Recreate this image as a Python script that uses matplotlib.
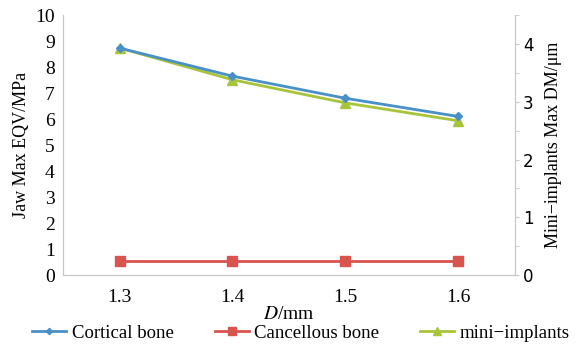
import matplotlib.pyplot as plt
from matplotlib.ticker import MultipleLocator

# data
diam = ["1.3", "1.4", "1.5", "1.6"]
cortical = [8.73, 7.65, 6.80, 6.10]      # left axis, MPa
cancellous = [0.54, 0.54, 0.54, 0.54]    # left axis, MPa
implants = [3.93, 3.38, 2.98, 2.67]      # right axis, um

plt.rcParams["font.family"] = ["Liberation Serif", "DejaVu Serif"]
plt.rcParams["mathtext.fontset"] = "stix"

BLUE = "#4a90c8"
RED = "#d9534f"
GREEN = "#a8c43a"
GRAY = "#c8c8c8"

fig, ax = plt.subplots(figsize=(5.79, 3.5), dpi=100)
fig.subplots_adjust(left=0.109, right=0.889, top=0.957, bottom=0.214)
ax2 = ax.twinx()

x = range(len(diam))
l1, = ax.plot(x, cortical, color=BLUE, lw=2, marker="D", ms=4, label="Cortical bone", zorder=3)
l2, = ax.plot(x, cancellous, color=RED, lw=2, marker="s", ms=7, label="Cancellous bone")
l3, = ax2.plot(x, implants, color=GREEN, lw=2, marker="^", ms=7, label="mini\u2212implants")

ax.set_zorder(ax2.get_zorder() + 1)
ax.patch.set_visible(False)

ax.set_xlim(-0.5, 3.5)
ax.set_xticks(list(x))
ax.set_xticklabels(diam, fontsize=14)
ax.set_ylim(0, 10)
ax.set_yticks(range(0, 11))
ax.tick_params(axis="y", length=0, labelsize=14, pad=6)
ax.tick_params(axis="x", length=0, pad=10)

ax2.set_ylim(0, 4.5)
ax2.yaxis.set_minor_locator(MultipleLocator(0.5))
ax2.set_yticks([0, 1, 2, 3, 4])
ax2.set_yticklabels(["0", "1", "2", "3", "4"], family=["DejaVu Sans"], fontsize=12)
ax2.tick_params(axis="y", which="both", length=3, color=GRAY, pad=3)

for a in (ax, ax2):
    a.spines["top"].set_visible(False)
    for s in ("left", "right", "bottom"):
        a.spines[s].set_color(GRAY)

ax.set_ylabel("Jaw Max EQV/MPa", fontsize=13, labelpad=4)
ax2.set_ylabel("Mini\u2212implants Max DM/\u03bcm", fontsize=13, labelpad=8)
ax.set_xlabel("$D$/mm", fontsize=14, labelpad=0)

fig.legend(handles=[l1, l2, l3], loc="lower center", ncol=3, frameon=False,
           fontsize=13.5, bbox_to_anchor=(0.52, -0.025), handlelength=1.8,
           columnspacing=2.2, handletextpad=0.3, markerscale=0.8)

fig.savefig("out.png", dpi=100)
